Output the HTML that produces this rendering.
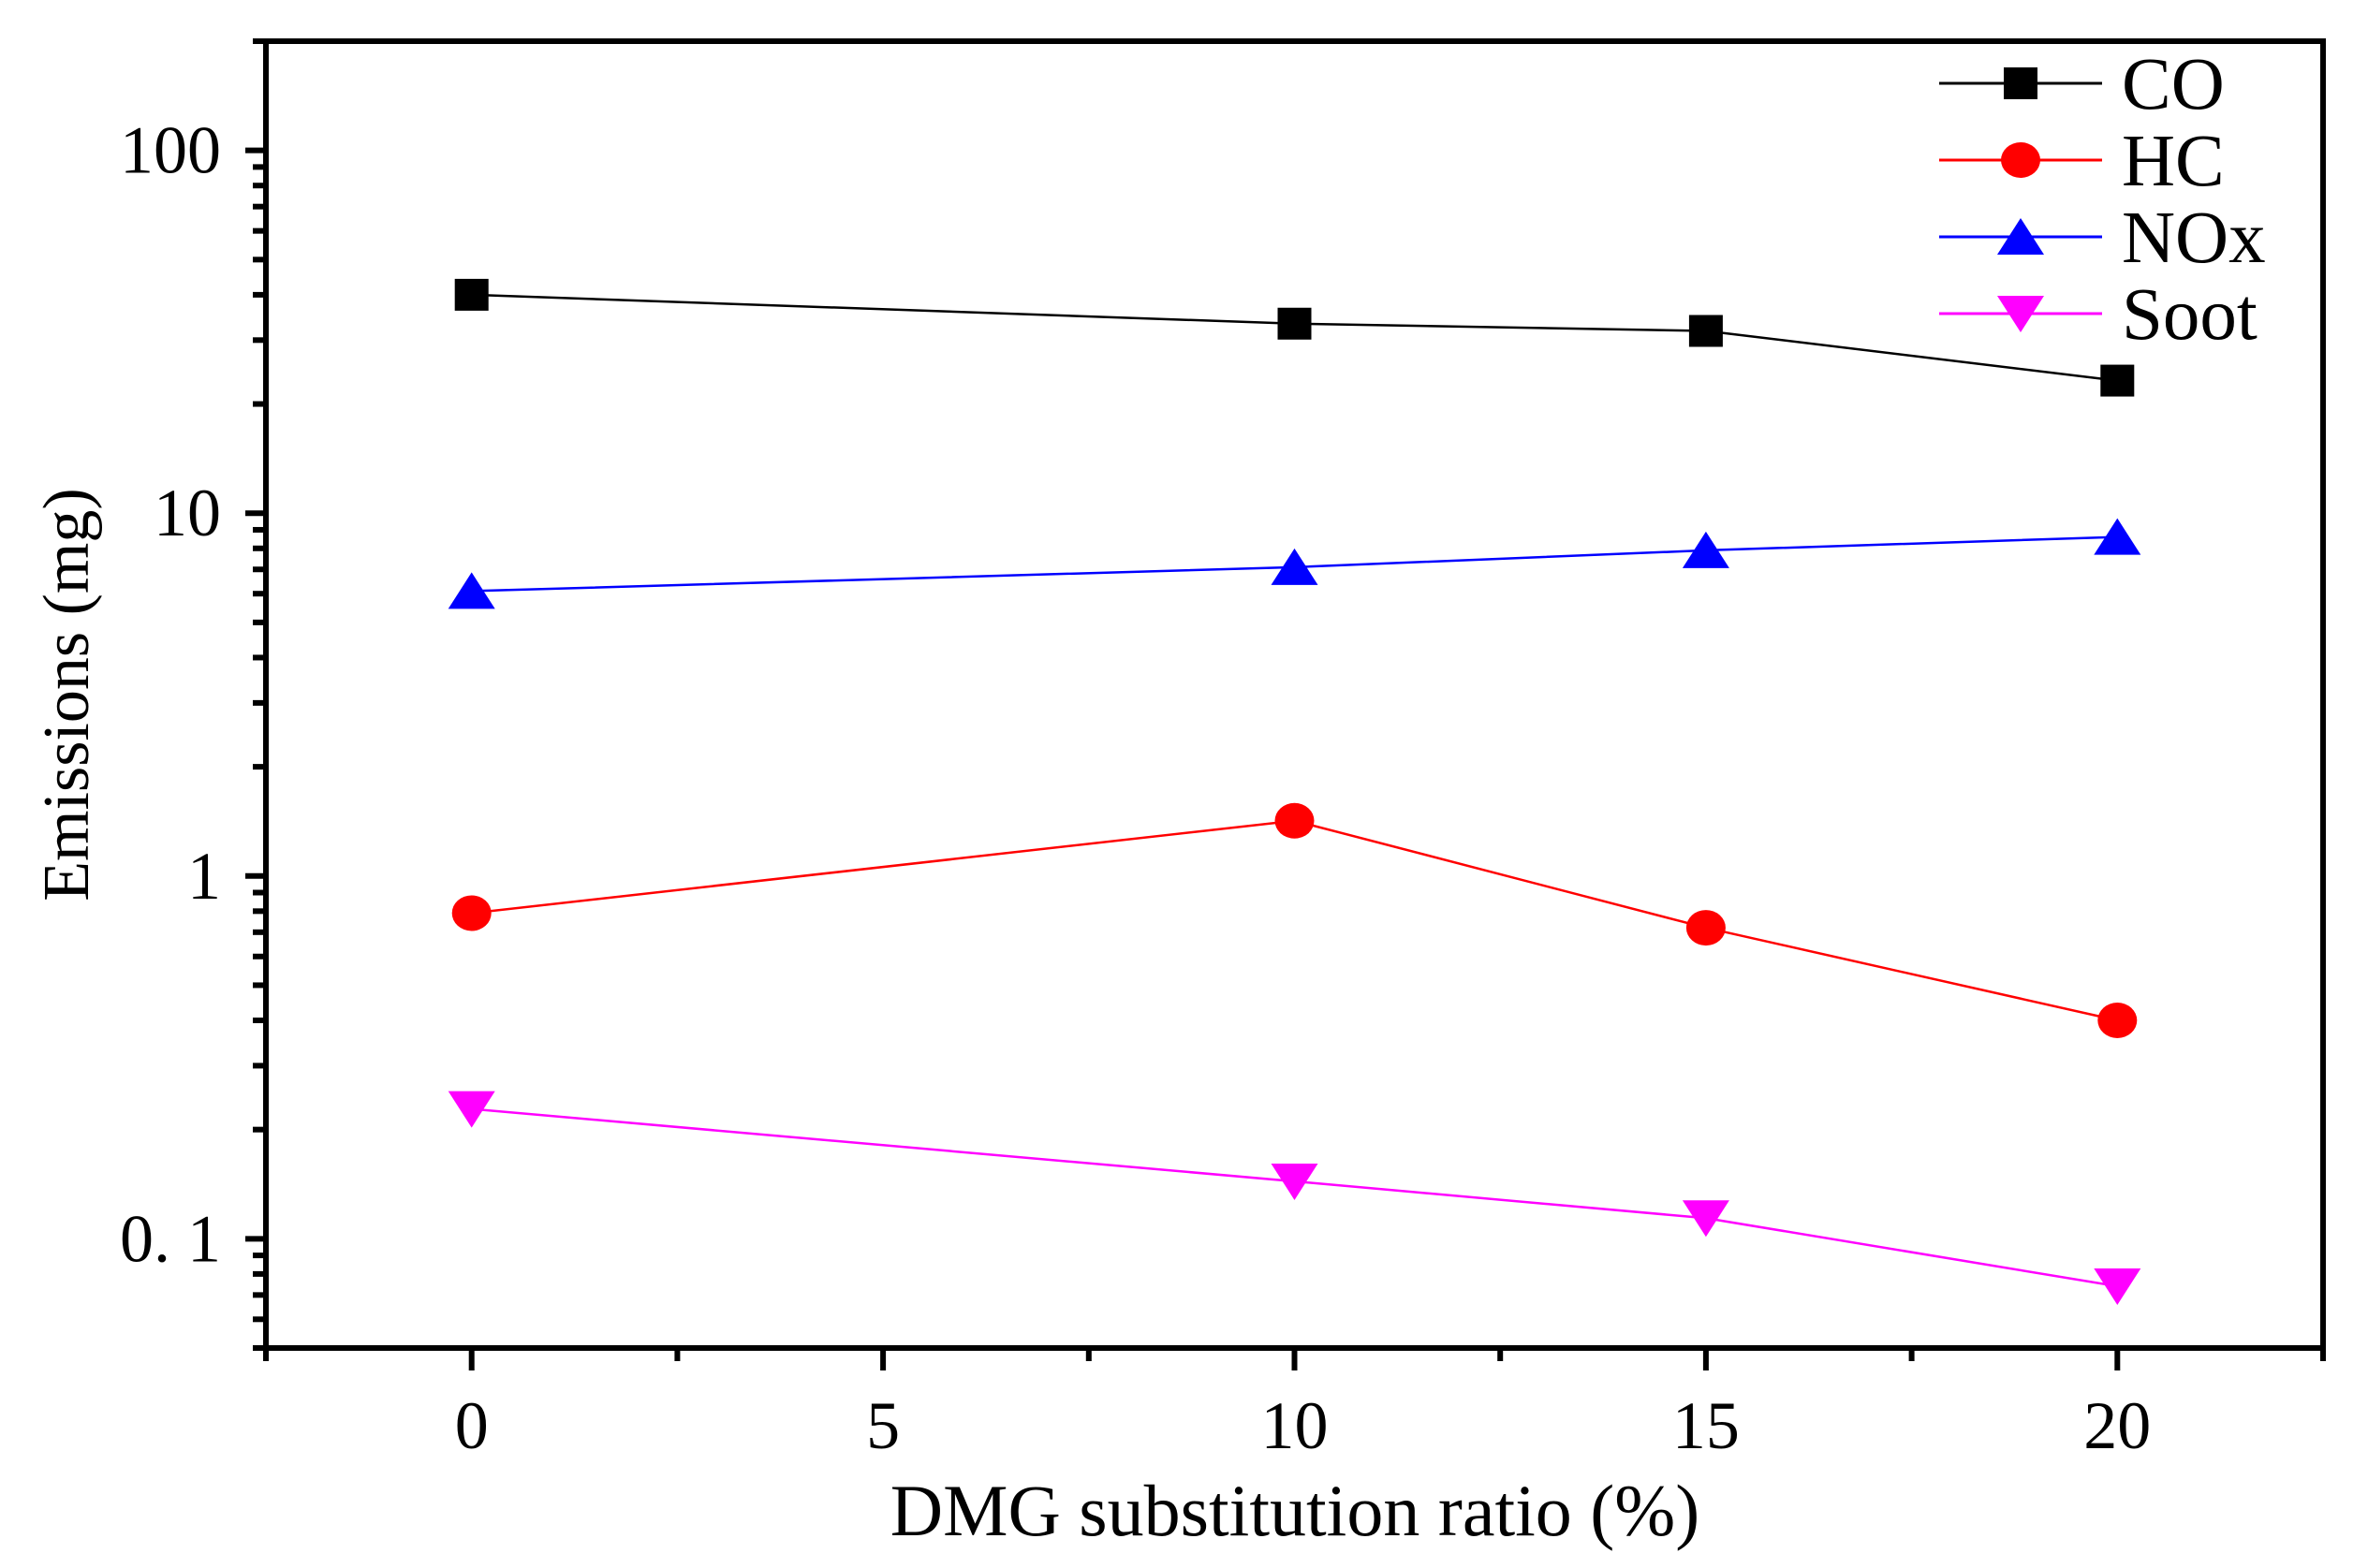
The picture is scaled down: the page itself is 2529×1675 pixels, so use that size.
<!DOCTYPE html>
<html><head><meta charset="utf-8"><style>
html,body{margin:0;padding:0;background:#fff;}
svg{display:block;}
text{font-family:"Liberation Serif",serif;fill:#000;}
</style></head><body>
<svg id="chart" width="2529" height="1675" viewBox="0 0 2529 1675">
<g id="grid"></g>
<g id="series"></g>
<g id="legend"></g>
</svg>
<script>
const xCats = [0, 10, 15, 20];
const coVals = [40, 33.3, 31.8, 23.2];
const hcVals = [0.79, 1.42, 0.72, 0.40];
const noxVals = [6.1, 7.1, 7.9, 8.6];
const sootVals = [0.228, 0.144, 0.114, 0.074];
const xTickLabels = ["0", "5", "10", "15", "20"];
const yTickLabels = ["0. 1", "1", "10", "100"];
const seriesNames = ["CO", "HC", "NOx", "Soot"];

const L=284,R=2481,T=44,B=1440;
const xMin=-2.5,xMax=22.5,yMin=Math.log10(0.05),yMax=Math.log10(200);
function xs(v){return L+(v-xMin)/(xMax-xMin)*(R-L);}
function ys(v){return B-(Math.log10(v)-yMin)/(yMax-yMin)*(B-T);}
const NS="http://www.w3.org/2000/svg";
function mk(tag,attrs,parent){const e=document.createElementNS(NS,tag);for(const k in attrs)e.setAttribute(k,attrs[k]);parent.appendChild(e);return e;}
const svg=document.getElementById('chart');
const grid=document.getElementById('grid');

const frame=mk('rect',{x:L,y:T,width:R-L,height:B-T,fill:'none',stroke:'#000','stroke-width':6},grid);



for(let d=-2;d<=2;d++){
  for(let m=1;m<=9;m++){
    const v=m*Math.pow(10,d);
    if(v<0.05-1e-9||v>200+1e-9)continue;
    const y=ys(v);const len=m===1?22:14;
    const t=mk('line',{x1:L-len,x2:L,y1:y,y2:y,stroke:'#000','stroke-width':6},grid);
    
    
  }
}
[0.1,1,10,100].forEach((v,i)=>{
  const t=mk('text',{x:236,y:ys(v)+24,'text-anchor':'end','font-size':72},grid);
  t.textContent=yTickLabels[i];
  
  
});
for(let v=-2.5;v<=22.51;v+=2.5){
  const major=Math.abs(v%5)<1e-6;
  const x=xs(v);
  const t=mk('line',{x1:x,x2:x,y1:B,y2:B+(major?24:14),stroke:'#000','stroke-width':6},grid);
  
  
}
[0,5,10,15,20].forEach((v,i)=>{
  const t=mk('text',{x:xs(v),y:1547,'text-anchor':'middle','font-size':72},grid);
  t.textContent=xTickLabels[i];
  
  
});
const xt=mk('text',{x:1383,y:1640,'text-anchor':'middle','font-size':78},grid);
xt.textContent='DMG substitution ratio (%)';


const yt=mk('text',{x:0,y:0,'text-anchor':'middle','font-size':70,transform:'translate(94,742) rotate(-90)'},grid);
yt.textContent='Emissions (mg)';



const colors=['#000000','#ff0000','#0000ff','#ff00ff'];
const shapes=['square','circle','up','down'];
const allVals=[coVals,hcVals,noxVals,sootVals];
function marker(shape,x,y,color,parent){
  if(shape==='square')return mk('rect',{x:x-18,y:y-17,width:36,height:34,fill:color},parent);
  if(shape==='circle')return mk('ellipse',{cx:x,cy:y,rx:21,ry:19,fill:color},parent);
  if(shape==='up')return mk('polygon',{points:`${x-25},${y+19} ${x+25},${y+19} ${x},${y-20}`,fill:color},parent);
  return mk('polygon',{points:`${x-25},${y-19} ${x+25},${y-19} ${x},${y+20}`,fill:color},parent);
}
const sg=document.getElementById('series');
allVals.forEach((vals,si)=>{
  const g=mk('g',{},sg);
  
  
  const pts=vals.map((v,i)=>xs(xCats[i])+','+ys(v)).join(' ');
  const pl=mk('polyline',{points:pts,fill:'none',stroke:colors[si],'stroke-width':2.5},g);
  
  
  vals.forEach((v,i)=>{
    const m=marker(shapes[si],xs(xCats[i]),ys(v),colors[si],g);
    
    
  });
});
const lg=document.getElementById('legend');


const rowsY=[89,171,253,335];
seriesNames.forEach((n,i)=>{
  const g=mk('g',{},lg);
  
  
  mk('line',{x1:2071,x2:2245,y1:rowsY[i],y2:rowsY[i],stroke:colors[i],'stroke-width':3},g);
  marker(shapes[i],2158,rowsY[i],colors[i],g);
  const t=mk('text',{x:2266,y:rowsY[i]+27,'font-size':79},g);
  t.textContent=n;
  
  
});
</script>
</body></html>
